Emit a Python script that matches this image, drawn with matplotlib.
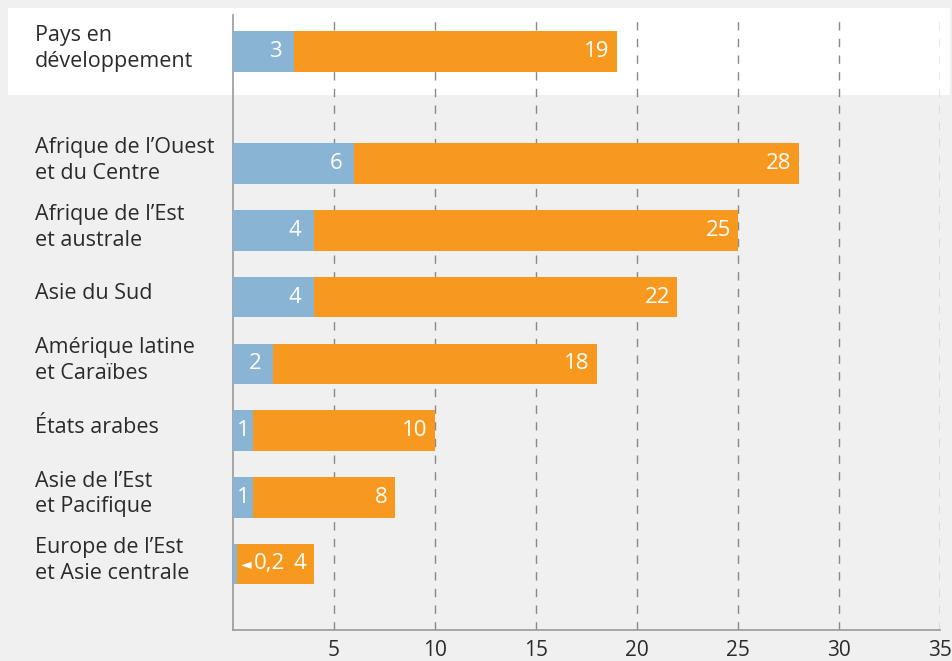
import matplotlib.pyplot as plt
from matplotlib.patches import Rectangle
from matplotlib.transforms import blended_transform_factory

regions = [
    "Pays en\ndéveloppement",
    "Afrique de l’Ouest\net du Centre",
    "Afrique de l’Est\net australe",
    "Asie du Sud",
    "Amérique latine\net Caraïbes",
    "États arabes",
    "Asie de l’Est\net Pacifique",
    "Europe de l’Est\net Asie centrale",
]
blue_vals = [3, 6, 4, 4, 2, 1, 1, 0.2]
totals = [19, 28, 25, 22, 18, 10, 8, 4]
blue_labels = ["3", "6", "4", "4", "2", "1", "1", "0,2"]
total_labels = ["19", "28", "25", "22", "18", "10", "8", "4"]
xticks = [5, 10, 15, 20, 25, 30, 35]

BLUE = "#8AB4D4"
ORANGE = "#F8991F"
FONT = ["Open Sans", "DejaVu Sans"]
plt.rcParams["font.family"] = FONT

fig = plt.figure(figsize=(9.53, 6.61), dpi=100)
fig.patch.set_facecolor("#F0F0F0")
fig.patches.append(Rectangle((8 / 953, 1 - 95 / 661), 942 / 953, 87 / 661,
                             transform=fig.transFigure, facecolor="white",
                             edgecolor="none", zorder=-5))

ax = fig.add_axes([233 / 953, 31 / 661, 707 / 953, 615 / 661])
ax.set_facecolor("none")
ax.set_zorder(2)

# first row sits apart from the regional rows
ypos = [0] + [1.68 + i for i in range(len(regions) - 1)]
h = 0.61

ax.barh(ypos, totals, height=h, color=ORANGE, zorder=2)
ax.barh(ypos, blue_vals, height=h, color=BLUE, zorder=3)

vstyle = dict(va="center", color="white", fontsize=16, zorder=4)
for y, b, t, bl, tl in zip(ypos, blue_vals, totals, blue_labels, total_labels):
    if b >= 2:
        ax.text(b - 0.6, y, bl, ha="right", **vstyle)
    elif b >= 1:
        ax.text(b / 2, y, bl, ha="center", **vstyle)
    else:
        ax.text(b + 0.2, y, "◄", ha="left", va="center", color="white",
                fontsize=10, family="DejaVu Sans", zorder=4)
        ax.text(b + 0.85, y, bl, ha="left", **vstyle)
    ax.text(t - 0.35, y, tl, ha="right", **vstyle)

trans = blended_transform_factory(fig.transFigure, ax.transData)
for y, name in zip(ypos, regions):
    ax.text(35 / 953, y - 0.05, name, transform=trans, ha="left", va="center",
            fontsize=15.5, color="#2b2b2b", linespacing=1.3)

ax.set_xlim(0, 35)
ax.set_ylim(8.67, -0.55)
ax.set_xticks(xticks)
ax.set_xticklabels([str(v) for v in xticks], fontsize=15, color="#2b2b2b")
ax.set_yticks([])
ax.tick_params(axis="x", length=0, pad=7)
ax.grid(axis="x", linestyle=(0, (6, 6)), color="#888888", linewidth=1)
ax.set_axisbelow(True)
for s in ["top", "right"]:
    ax.spines[s].set_visible(False)
for s in ["left", "bottom"]:
    ax.spines[s].set_color("#999999")
    ax.spines[s].set_linewidth(1.2)

fig.savefig("out.png", dpi=100, facecolor=fig.get_facecolor())
